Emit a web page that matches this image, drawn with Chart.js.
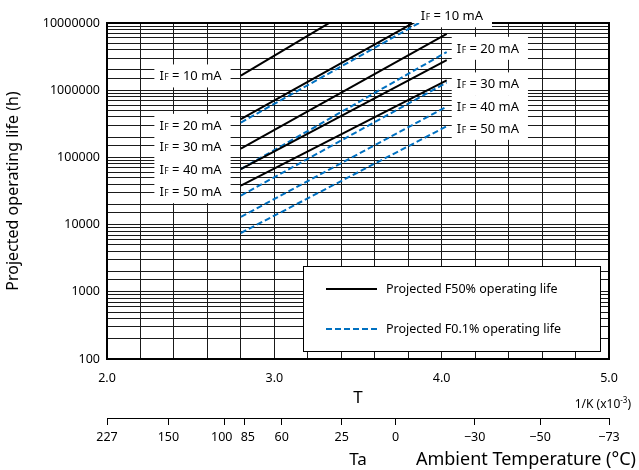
<!DOCTYPE html>
<html>
<head>
<meta charset="utf-8">
<script src="https://cdn.jsdelivr.net/npm/chart.js@4.4.1/dist/chart.umd.min.js"></script>
<style>
  html, body { margin: 0; padding: 0; background: #fff; }
</style>
</head>
<body>
<canvas id="lifeChart" width="639" height="470"></canvas>
<script>
// forward currents, one solid + one dashed line each
const currents = ['10 mA', '20 mA', '30 mA', '40 mA', '50 mA'];
const xStart = 2.8;   // 1/K x10^-3 (85 C)
const xEnd = 4.03;    // 1/K x10^-3 (-25 C)
const f50Start = [1.65e6, 3.7e5, 1.35e5, 6.7e4, 3.8e4];
const f50End = [1.1e8, 1.9e7, 6.9e6, 2.8e6, 1.4e6];
const f01Start = [3.3e5, 6.7e4, 2.7e4, 1.3e4, 7.5e3];
const f01End = [1.7e7, 3.7e6, 1.3e6, 5.7e5, 2.9e5];

// axis labels
const yTickLabels = [100, 1000, 10000, 100000, 1000000, 10000000];
const xTickLabels = [2.0, 3.0, 4.0, 5.0];
const taLabels = ['227', '150', '100  ', '  85', '60', '25', '0', '\u221230', '\u221250', '\u221273'];
const taPos = [2.0, 2.367, 2.705, 2.822, 3.044, 3.403, 3.725, 4.197, 4.588, 5.0];

// where the "IF = .." notes sit (x in 1/K, y in hours)
const leftNoteX = 2.313;
const leftNoteY = [1.63e6, 3.0e5, 1.44e5, 6.65e4, 3.09e4];
const rightNoteX = [3.875, 4.09, 4.09, 4.09, 4.09];
const rightNoteY = [1.28e7, 4.2e6, 1.24e6, 5.7e5, 2.71e5];

const FONT = '"Noto Sans", sans-serif';
const BLUE = '#0070c0';

Chart.defaults.font.family = FONT;
Chart.defaults.color = '#000';

const datasets = [];
currents.forEach((c, i) => {
  datasets.push({
    label: 'F50% ' + c,
    data: [{x: xStart, y: f50Start[i]}, {x: xEnd, y: f50End[i]}],
    borderColor: '#000',
    borderWidth: 2,
    pointRadius: 0
  });
});
currents.forEach((c, i) => {
  datasets.push({
    label: 'F0.1% ' + c,
    data: [{x: xStart, y: f01Start[i]}, {x: xEnd, y: f01End[i]}],
    borderColor: BLUE,
    borderWidth: 2,
    borderDash: [6, 3],
    pointRadius: 0
  });
});

function noteWidth(ctx, text) {
  ctx.font = '13px ' + FONT;
  let w = ctx.measureText('I').width + 0.5;
  ctx.font = '8.5px ' + FONT;
  w += ctx.measureText('F').width;
  ctx.font = '13px ' + FONT;
  return w + ctx.measureText(' = ' + text).width;
}

function drawNote(ctx, text, x, y) {
  const base = y + 4.5;
  ctx.fillStyle = '#000';
  ctx.textBaseline = 'alphabetic';
  ctx.textAlign = 'left';
  ctx.font = '13px ' + FONT;
  ctx.fillText('I', x, base);
  let w = ctx.measureText('I').width + 0.5;
  ctx.font = '8.5px ' + FONT;
  ctx.fillText('F', x + w, base);
  w += ctx.measureText('F').width;
  ctx.font = '13px ' + FONT;
  ctx.fillText(' = ' + text, x + w, base);
}

const framePlugin = {
  id: 'frameAndNotes',
  beforeDatasetsDraw(chart) {
    const ctx = chart.ctx;
    const a = chart.chartArea;
    const sx = chart.scales.x, sy = chart.scales.y;
    ctx.save();
    ctx.strokeStyle = '#000';
    ctx.lineWidth = 2;
    ctx.strokeRect(a.left, a.top, a.right - a.left, a.bottom - a.top);

    const notes = [];
    currents.forEach((c, i) => {
      notes.push({text: c, x: sx.getPixelForValue(leftNoteX), y: sy.getPixelForValue(leftNoteY[i]), padL: 5});
      notes.push({text: c, x: sx.getPixelForValue(rightNoteX[i]), y: sy.getPixelForValue(rightNoteY[i]), padL: i === 0 ? 9 : 5});
    });
    ctx.fillStyle = '#fff';
    notes.forEach(n => {
      const w = noteWidth(ctx, n.text);
      ctx.fillRect(n.x - n.padL, n.y - 11.5, w + n.padL + 9, 23);
    });
    notes.forEach(n => drawNote(ctx, n.text, n.x, n.y));
    ctx.restore();
  },
  afterDatasetsDraw(chart) {
    const ctx = chart.ctx;
    const a = chart.chartArea;
    const bx = a.right - 306, by = a.bottom - 93;
    ctx.save();
    ctx.fillStyle = '#fff';
    ctx.fillRect(bx, by, 297, 85);
    ctx.strokeStyle = '#000';
    ctx.lineWidth = 1;
    ctx.strokeRect(bx + 0.5, by + 0.5, 297, 85);

    const entries = [
      {text: 'Projected F50% operating life', color: '#000', dash: [], y: by + 23},
      {text: 'Projected F0.1% operating life', color: BLUE, dash: [6, 3], y: by + 63}
    ];
    entries.forEach(e => {
      ctx.beginPath();
      ctx.setLineDash(e.dash);
      ctx.strokeStyle = e.color;
      ctx.lineWidth = 2;
      ctx.moveTo(bx + 23, e.y);
      ctx.lineTo(bx + 74, e.y);
      ctx.stroke();
      ctx.setLineDash([]);
      ctx.fillStyle = '#000';
      ctx.font = '12.5px ' + FONT;
      ctx.textBaseline = 'middle';
      ctx.textAlign = 'left';
      ctx.fillText(e.text, bx + 83, e.y);
    });
    ctx.restore();
  },
  afterDraw(chart) {
    const ctx = chart.ctx;
    ctx.save();
    ctx.fillStyle = '#000';
    ctx.textBaseline = 'middle';
    ctx.textAlign = 'left';
    // 1/K (x10^-3) unit note
    const parts = [['1/K (x10', '12px', 0], ['-3', '8px', -4], [')', '12px', 0]];
    let total = 0;
    parts.forEach(p => { ctx.font = p[1] + ' ' + FONT; total += ctx.measureText(p[0]).width; });
    let x = 631 - total;
    parts.forEach(p => {
      ctx.font = p[1] + ' ' + FONT;
      ctx.fillText(p[0], x, 405 + p[2]);
      x += ctx.measureText(p[0]).width;
    });
    ctx.textAlign = 'right';
    ctx.font = '18px ' + FONT;
    ctx.fillText('Ambient Temperature (\u00b0C)', 636, 460);
    ctx.restore();
  }
};

const ctx = document.getElementById('lifeChart').getContext('2d');

new Chart(ctx, {
  type: 'line',
  data: {datasets: datasets},
  options: {
    responsive: false,
    animation: false,
    layout: {padding: {top: 23, right: 30, left: 0, bottom: 0}},
    plugins: {
      legend: {display: false},
      tooltip: {enabled: false}
    },
    scales: {
      y: {
        type: 'logarithmic',
        min: 100,
        max: 10000000,
        afterFit(scale) { scale.width = 107; },
        border: {display: false},
        grid: {color: '#1a1a1a', lineWidth: 1, drawTicks: false},
        ticks: {
          autoSkip: false,
          padding: 7,
          font: {size: 12.5},
          callback: v => yTickLabels.includes(v) ? String(v) : ''
        },
        title: {
          display: true,
          text: 'Projected operating life (h)',
          font: {size: 16},
          padding: {top: 4, bottom: 0}
        }
      },
      x: {
        type: 'linear',
        position: 'bottom',
        min: 2,
        max: 5,
        afterFit(scale) { scale.height = 59; },
        border: {display: false},
        grid: {color: '#1a1a1a', lineWidth: 1, drawTicks: false},
        ticks: {
          stepSize: 0.2,
          autoSkip: false,
          maxRotation: 0,
          padding: 12,
          font: {size: 12.5},
          callback: v => {
            const r = Math.round(v * 10) / 10;
            return xTickLabels.includes(r) ? r.toFixed(1) : '';
          }
        },
        title: {
          display: true,
          text: 'T',
          font: {size: 17},
          padding: {top: 0, bottom: 10}
        }
      },
      ta: {
        type: 'linear',
        position: 'bottom',
        min: 2,
        max: 5,
        afterFit(scale) { scale.height = 52; },
        afterBuildTicks(scale) { scale.ticks = taPos.map(v => ({value: v})); },
        border: {display: true, color: '#000', width: 1},
        grid: {drawOnChartArea: false, drawTicks: true, tickLength: 7, color: '#000'},
        ticks: {
          autoSkip: false,
          maxRotation: 0,
          padding: 5,
          font: {size: 12.5},
          callback: (v, i) => taLabels[i]
        },
        title: {
          display: true,
          text: 'Ta',
          font: {size: 17},
          padding: {top: 0, bottom: 0}
        }
      }
    }
  },
  plugins: [framePlugin]
});
</script>
</body>
</html>
